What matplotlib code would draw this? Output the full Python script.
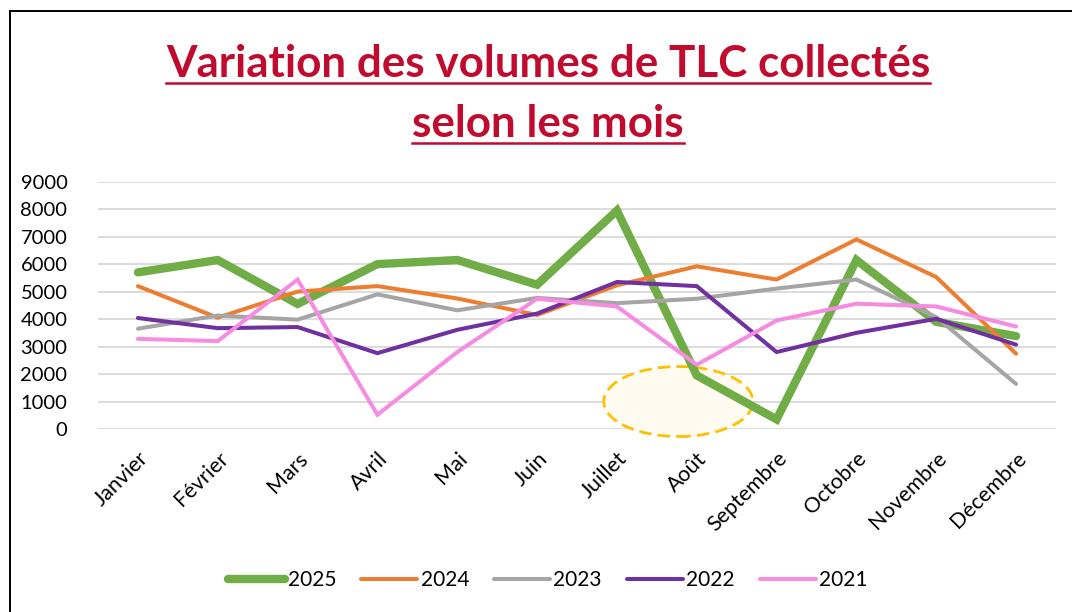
import matplotlib
matplotlib.use("Agg")
import matplotlib.pyplot as plt
from matplotlib.patches import Ellipse
from matplotlib.lines import Line2D

plt.rcParams['font.family'] = ['Lato', 'DejaVu Sans']

months = ["Janvier", "Février", "Mars", "Avril", "Mai", "Juin", "Juillet",
          "Août", "Septembre", "Octobre", "Novembre", "Décembre"]
years = ["2025", "2024", "2023", "2022", "2021"]
v2025 = [5700, 6150, 4550, 6000, 6150, 5250, 7950, 1950, 350, 6150, 3900, 3380]
v2024 = [5200, 4050, 5000, 5200, 4750, 4150, 5230, 5920, 5440, 6900, 5530, 2740]
v2023 = [3650, 4130, 3980, 4900, 4320, 4770, 4580, 4740, 5110, 5440, 4070, 1640]
v2022 = [4040, 3670, 3710, 2760, 3610, 4200, 5350, 5200, 2800, 3500, 4010, 3070]
v2021 = [3280, 3200, 5440, 520, 2800, 4740, 4460, 2340, 3950, 4560, 4460, 3730]
yticks = [0, 1000, 2000, 3000, 4000, 5000, 6000, 7000, 8000, 9000]

series = [v2025, v2024, v2023, v2022, v2021]
colors = ["#70AD47", "#ED7D31", "#A5A5A5", "#7030A0", "#F68BE2"]
widths = [6.0, 2.9, 2.9, 2.9, 2.9]

title1 = "Variation des volumes de TLC collectés"
title2 = "selon les mois"
title_color = "#C00A2E"

W, H = 1072, 612
fig = plt.figure(figsize=(W / 100, H / 100), dpi=100)
fig.patch.set_facecolor("white")

ax = fig.add_axes([98 / W, 1 - 429 / H, (1056 - 98) / W, (429 - 181.7) / H])
x = list(range(len(months)))
for vals, c, lw, lab in zip(series, colors, widths, years):
    ax.plot(x, vals, color=c, lw=lw, label=lab, solid_capstyle="round",
            solid_joinstyle="miter", zorder=3)

# highlight ellipse around August dip
ell = Ellipse((6.77, 1000), 1.87, 2550, facecolor="#FFFBF0", edgecolor="#FFC000",
              lw=2.0, ls=(0, (4.5, 2.2)), zorder=2, clip_on=False)
ax.add_patch(ell)

ax.set_xlim(-0.5, len(months) - 0.5)
ax.set_ylim(0, 9000)
ax.set_yticks(yticks)
ax.set_yticklabels([str(t) for t in yticks], fontsize=14.5)
ax.set_xticks(x)
ax.set_xticklabels(months, fontsize=15.5, rotation=45, ha="right",
                   rotation_mode="anchor")
ax.tick_params(axis="both", length=0, colors="black")
ax.tick_params(axis="x", pad=14)
ax.tick_params(axis="y", pad=22)
ax.grid(axis="y", color="#D9D9D9", lw=1.3, zorder=0)
ax.set_axisbelow(True)
for s in ax.spines.values():
    s.set_visible(False)

leg = fig.legend(loc="center", bbox_to_anchor=(548 / W, 1 - 580 / H), ncol=5,
                 frameon=False, fontsize=15, handlelength=2.7,
                 handletextpad=0.15, columnspacing=1.2)
for h in leg.get_lines():
    h.set_solid_capstyle("round")

# frame lines (chart border, left and top)
fig.add_artist(Line2D([10 / W, 10 / W], [0, 1 - 11 / H], color="black", lw=1.4,
                      transform=fig.transFigure))
fig.add_artist(Line2D([10 / W, 1], [1 - 11 / H, 1 - 11 / H], color="black", lw=1.4,
                      transform=fig.transFigure))

# title with underline, fitted to the reference width
cx = 548 / W
t1 = fig.text(cx, 1 - 76.7 / H, title1, ha="center", va="baseline",
              fontsize=28, fontweight="bold", color=title_color)
t2 = fig.text(cx, 1 - 136.7 / H, title2, ha="center", va="baseline",
              fontsize=28, fontweight="bold", color=title_color)
fig.canvas.draw()
r = fig.canvas.get_renderer()
w1 = t1.get_window_extent(r).width
fs = 28 * 765 / w1
t1.set_fontsize(fs)
t2.set_fontsize(fs)
fig.canvas.draw()
for t, uy in ((t1, 83.3), (t2, 143.3)):
    bb = t.get_window_extent(r)
    fig.add_artist(Line2D([bb.x0 / W, bb.x1 / W], [1 - uy / H, 1 - uy / H],
                          color=title_color, lw=1.8, transform=fig.transFigure))

fig.savefig("out.png", dpi=100)
